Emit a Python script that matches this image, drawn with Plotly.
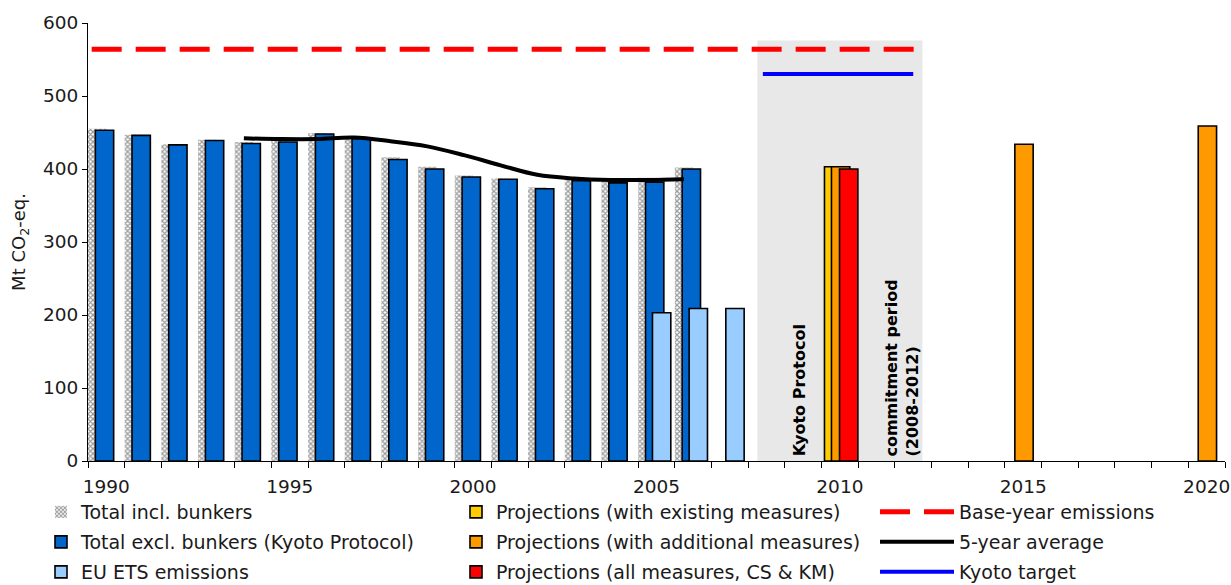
import plotly.graph_objects as go

# Historic emissions, Mt CO2-eq.
years = list(range(1990, 2007))
total_incl_bunkers = [455, 447, 434, 440, 437, 439, 449, 443, 416, 403, 391, 387, 375, 385, 383, 388, 402]
total_excl_bunkers = [453, 446, 433, 439, 435, 437, 448, 442, 413, 400, 389, 386, 373, 384, 381, 382, 400]

ets_years = [2005, 2006, 2007]
ets_emissions = [203, 209, 209]

# Projections
wem_years = [2010]
wem_values = [403]
wam_years = [2010, 2015, 2020]
wam_values = [403, 434, 459]
all_years = [2010]
all_values = [400]

avg_years = list(range(1994, 2007))
avg_values = [442, 441, 441, 443, 438, 431, 419, 405, 392, 387, 385, 385, 386]

base_year_emissions = 564
base_year_span = [1989.6, 2012.05]
kyoto_target = 530
kyoto_span = [2007.9, 2012.0]
commitment_period = (2008, 2012)

tick_years = [1990, 1995, 2000, 2005, 2010, 2015, 2020]

FONT = "DejaVu Sans"
BAR_W = 0.5
OUTLINE = dict(color="black", width=1.6)

fig = go.Figure()

fig.add_trace(go.Bar(
    x=years, y=total_incl_bunkers, width=BAR_W, offset=-0.5,
    name="Total incl. bunkers", legend="legend", legendgroup="a", legendrank=1,
    marker=dict(color="white", line=dict(width=0),
                pattern=dict(shape="x", size=3.5, solidity=0.6,
                             fgcolor="#3c3c3c", bgcolor="white")),
))
fig.add_trace(go.Bar(
    x=years, y=total_excl_bunkers, width=BAR_W, offset=-0.3,
    name="Total excl. bunkers (Kyoto Protocol)", legend="legend", legendgroup="b", legendrank=2,
    marker=dict(color="#0066CC", line=OUTLINE),
))
fig.add_trace(go.Bar(
    x=ets_years, y=ets_emissions, width=BAR_W, offset=-0.11,
    name="EU ETS emissions", legend="legend", legendgroup="c", legendrank=3,
    marker=dict(color="#99CCFF", line=OUTLINE),
))
fig.add_trace(go.Bar(
    x=wem_years, y=wem_values, width=BAR_W, offset=-0.42,
    name="Projections (with existing measures)", legend="legend2", legendgroup="d", legendrank=1,
    marker=dict(color="#FFCC00", line=OUTLINE),
))
fig.add_trace(go.Bar(
    x=wam_years, y=wam_values, width=BAR_W, offset=-0.23,
    name="Projections (with additional measures)", legend="legend2", legendgroup="e", legendrank=2,
    marker=dict(color="#FF9900", line=OUTLINE),
))
fig.add_trace(go.Bar(
    x=all_years, y=all_values, width=BAR_W, offset=-0.01,
    name="Projections (all measures, CS & KM)", legend="legend2", legendgroup="f", legendrank=3,
    marker=dict(color="#FF0000", line=OUTLINE),
))
fig.add_trace(go.Scatter(
    x=base_year_span, y=[base_year_emissions] * 2, mode="lines",
    name="Base-year emissions", legend="legend3", legendgroup="g", legendrank=1,
    line=dict(color="#FF0000", width=5, dash="30px,14px"),
))
fig.add_trace(go.Scatter(
    x=[y - 0.25 for y in avg_years], y=avg_values, mode="lines",
    name="5-year average", legend="legend3", legendgroup="h", legendrank=2,
    line=dict(color="black", width=4, shape="spline"),
))
fig.add_trace(go.Scatter(
    x=kyoto_span, y=[kyoto_target] * 2, mode="lines",
    name="Kyoto target", legend="legend3", legendgroup="i", legendrank=3,
    line=dict(color="#0000FF", width=4),
))

# Kyoto commitment period shading
fig.add_shape(type="rect", layer="below", xref="x", yref="y",
              x0=commitment_period[0] - 0.25, x1=commitment_period[1] + 0.25,
              y0=0, y1=576, fillcolor="#E8E8E8", line=dict(width=0))

fig.add_annotation(x=2008.9, y=3, xref="x", yref="y", text="<b>Kyoto Protocol</b>",
                   textangle=-90, showarrow=False, xanchor="center", yanchor="bottom",
                   font=dict(family=FONT, size=16, color="black"))
fig.add_annotation(x=2011.7, y=3, xref="x", yref="y",
                   text="<b>commitment period</b><br><b>(2008-2012)</b>",
                   textangle=-90, showarrow=False, xanchor="center", yanchor="bottom",
                   align="left", font=dict(family=FONT, size=16, color="black"))

L, R, T, B = 88, 6, 23, 124
W, H = 1231, 585
pw, ph = W - L - R, H - T - B


def px_x(px):
    return (px - L) / pw


def px_y(py):
    return (H - B - py) / ph


legend_common = dict(
    orientation="v", xanchor="left", yanchor="top", bgcolor="rgba(0,0,0,0)",
    borderwidth=0, tracegroupgap=2.3,
    font=dict(family=FONT, size=19, color="#1a1a1a"),
)

fig.update_layout(
    width=W, height=H,
    margin=dict(l=L, r=R, t=T, b=B, autoexpand=False),
    paper_bgcolor="white", plot_bgcolor="white",
    barmode="overlay",
    font=dict(family=FONT, size=18, color="#1a1a1a"),
    showlegend=True,
    legend=dict(x=px_x(41), y=px_y(493), itemwidth=30, **legend_common),
    legend2=dict(x=px_x(456), y=px_y(493), itemwidth=30, **legend_common),
    legend3=dict(x=px_x(875), y=px_y(493), itemwidth=74, **legend_common),
    xaxis=dict(
        range=[1989.5, 2020.5], tickvals=tick_years, ticks="",
        showline=True, linecolor="black", linewidth=1.2, showgrid=False, zeroline=False,
        tickfont=dict(family=FONT, size=18.5, color="#1a1a1a"),
        minor=dict(tick0=1989.5, dtick=1, ticks="outside", ticklen=6,
                   tickcolor="black", tickwidth=1, showgrid=False),
        ticklabelstandoff=9,
    ),
    yaxis=dict(
        range=[0, 600], dtick=100, ticks="outside", ticklen=5, tickcolor="black",
        showline=True, linecolor="black", linewidth=1.2, showgrid=False, zeroline=False,
        tickfont=dict(family=FONT, size=18.5, color="#1a1a1a"),
        title=dict(text="Mt CO<sub>2</sub>-eq.", font=dict(family=FONT, size=18, color="#1a1a1a"),
                   standoff=12),
    ),
)

# drop the browser's default page margin so the figure sits at the window origin
fig.write_html("out.html", config={"displayModeBar": False},
               post_script="document.body.style.margin='0';")
